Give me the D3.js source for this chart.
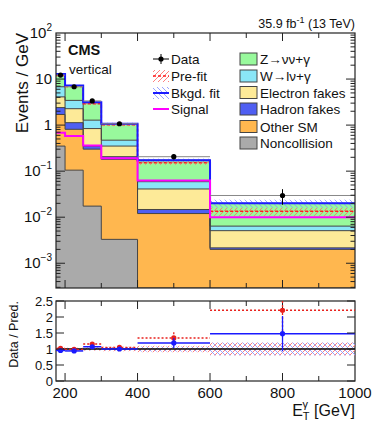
<!DOCTYPE html>
<html>
<head>
<meta charset="utf-8">
<script src="https://d3js.org/d3.v7.min.js"></script>
<style>
  body { margin: 0; background: #fff; }
  svg text { font-family: "Liberation Sans", Arial, sans-serif; }
</style>
</head>
<body>
<div class="chart"></div>
<script>
// bin edges in GeV
var binEdges = [175, 200, 250, 300, 400, 600, 1000];

// background stack (events / GeV), bottom to top
var noncollision  = [0.35, 0.105, 0.0174, 0.0033, 0, 0];
var otherSM       = [1.35, 0.705, 0.283, 0.177, 0.012, 0.002];
var hadronFakes   = [0.7, 0.32, 0.05, 0.026, 0.0027, 0.00016];
var electronFakes = [1.7, 1.14, 0.49, 0.144, 0.0263, 0.00294];
var wlnug         = [2.7, 1.17, 0.44, 0.12, 0.018, 0.0013];
var znng          = [6.0, 3.8, 1.85, 0.60, 0.114, 0.0136];

var dataVals = [12.2, 6.8, 3.35, 1.07, 0.206, 0.0296];
var dataErr  = [0.3, 0.15, 0.1, 0.04, 0.027, 0.011];
var prefit   = [12.0, 6.9, 2.9, 1.02, 0.153, 0.0134];
var signal   = [0.68, 0.58, 0.36, 0.19, 0.063, 0.010];
var fitUnc    = [0.03, 0.03, 0.04, 0.05, 0.08, 0.2];   // relative
var prefitUnc = [0.04, 0.04, 0.05, 0.07, 0.1, 0.2];    // relative

var layerNames  = ["Noncollision", "Other SM", "Hadron fakes", "Electron fakes", "W\u2192l\u03bd+\u03b3", "Z\u2192\u03bd\u03bd+\u03b3"];
var layerColors = ["#aaaaaa", "#ffb74f", "#4f5ff2", "#fdea98", "#8ae6f7", "#98f99c"];
var layers = [noncollision, otherSM, hadronFakes, electronFakes, wlnug, znng];

var yTickVals = [1e-3, 1e-2, 1e-1, 1, 10, 100];
var yTickExp  = ["\u22123", "\u22122", "\u22121", "", "", "2"];
var xTickVals = [200, 400, 600, 800, 1000];
var rTickVals = [0, 0.5, 1, 1.5, 2, 2.5];

var w = 374, h = 424;
var L = 56, R = 355, T = 33, B = 288;   // main frame
var rT = 301, rB = 381;                  // ratio frame

var svg = d3.select("div.chart").append("svg").attr("width", w).attr("height", h);

var defs = svg.append("defs");
function hatch(id, color, dir) {
  var p = defs.append("pattern").attr("id", id).attr("patternUnits", "userSpaceOnUse")
    .attr("width", 5).attr("height", 5);
  if (dir > 0) {
    p.append("path").attr("d", "M-1,1 l2,-2 M0,5 l5,-5 M4,6 l2,-2");
  } else {
    p.append("path").attr("d", "M-1,4 l2,2 M0,0 l5,5 M4,-1 l2,2");
  }
  p.select("path").attr("stroke", color).attr("stroke-width", 0.9);
}
hatch("hRed", "#ff7070", 1);
hatch("hBlue", "#8d98ff", -1);
defs.append("clipPath").attr("id", "cMain").append("rect").attr("x", L).attr("y", T).attr("width", R - L).attr("height", B - T);
defs.append("clipPath").attr("id", "cRatio").append("rect").attr("x", L).attr("y", rT).attr("width", R - L).attr("height", rB - rT);

var xScale = d3.scaleLinear().domain([175, 1000]).range([L, R]);
var yScale = d3.scaleLog().domain([2.9e-4, 100]).range([B, T]).clamp(true);
var rScale = d3.scaleLinear().domain([0, 2.5]).range([rB, rT]).clamp(true);

var nb = dataVals.length;
var bins = d3.range(nb).map(function(i) {
  var o = { i: i, lo: binEdges[i], hi: binEdges[i + 1] };
  layers.forEach(function(l, k) { o["l" + k] = l[i]; });
  return o;
});
var stack = d3.stack().keys(layers.map(function(l, k) { return "l" + k; }))(bins);
var total = bins.map(function(b, i) { return d3.sum(layers, function(l) { return l[i]; }); });

// step helper: values per bin -> points including the last edge
function stepPts(vals) {
  var p = vals.map(function(v, i) { return [binEdges[i], v]; });
  p.push([binEdges[nb], vals[nb - 1]]);
  return p;
}
var stepLine = d3.line().curve(d3.curveStepAfter)
  .x(function(d) { return xScale(d[0]); })
  .y(function(d) { return yScale(Math.max(d[1], 1e-5)); });

var main = svg.append("g").attr("clip-path", "url(#cMain)");

// stack fills
stack.forEach(function(s, k) {
  var pts = s.map(function(d, i) { return [binEdges[i], d[0], d[1]]; });
  pts.push([binEdges[nb], s[nb - 1][0], s[nb - 1][1]]);
  var area = d3.area().curve(d3.curveStepAfter)
    .x(function(d) { return xScale(d[0]); })
    .y0(function(d) { return yScale(Math.max(d[1], 1e-5)); })
    .y1(function(d) { return yScale(Math.max(d[2], 1e-5)); });
  main.append("path").attr("d", area(pts)).attr("fill", layerColors[k]).attr("stroke", "none");
});
// layer outlines
stack.forEach(function(s, k) {
  var tops = s.map(function(d) { return d[1]; });
  main.append("path").attr("d", stepLine(stepPts(tops)))
    .attr("fill", "none").attr("stroke", "#444").attr("stroke-width", 1);
});

// uncertainty bands
bins.forEach(function(b, i) {
  main.append("rect").attr("x", xScale(b.lo)).attr("width", xScale(b.hi) - xScale(b.lo))
    .attr("y", yScale(prefit[i] * (1 + prefitUnc[i])))
    .attr("height", yScale(prefit[i] * (1 - prefitUnc[i])) - yScale(prefit[i] * (1 + prefitUnc[i])))
    .attr("fill", "url(#hRed)");
  main.append("rect").attr("x", xScale(b.lo)).attr("width", xScale(b.hi) - xScale(b.lo))
    .attr("y", yScale(total[i] * (1 + fitUnc[i])))
    .attr("height", yScale(total[i] * (1 - fitUnc[i])) - yScale(total[i] * (1 + fitUnc[i])))
    .attr("fill", "url(#hBlue)");
});

main.append("path").attr("d", stepLine(stepPts(prefit)))
  .attr("fill", "none").attr("stroke", "#ff2020").attr("stroke-width", 1.5).attr("stroke-dasharray", "3,2");
main.append("path").attr("d", stepLine(stepPts(total)))
  .attr("fill", "none").attr("stroke", "#1a1aff").attr("stroke-width", 2);
main.append("path").attr("d", stepLine(stepPts(signal)))
  .attr("fill", "none").attr("stroke", "#ff00ff").attr("stroke-width", 2);

// data
bins.forEach(function(b, i) {
  var cx = xScale((b.lo + b.hi) / 2), cy = yScale(dataVals[i]);
  main.append("line").attr("x1", xScale(b.lo)).attr("x2", xScale(b.hi)).attr("y1", cy).attr("y2", cy)
    .attr("stroke", "#888").attr("stroke-width", 1);
  main.append("line").attr("x1", cx).attr("x2", cx)
    .attr("y1", yScale(dataVals[i] + dataErr[i])).attr("y2", yScale(dataVals[i] - dataErr[i]))
    .attr("stroke", "#000").attr("stroke-width", 1);
  main.append("circle").attr("cx", cx).attr("cy", cy).attr("r", 2.6).attr("fill", "#000");
});

// frames and ticks
function frame(y0, y1) {
  svg.append("rect").attr("x", L).attr("y", y0).attr("width", R - L).attr("height", y1 - y0)
    .attr("fill", "none").attr("stroke", "#222").attr("stroke-width", 1.2);
}
frame(T, B);
frame(rT, rB);

function xTicks(y0, y1) {
  d3.range(200, 1000, 100).forEach(function(v) {
    var len = v % 200 === 0 ? 8 : 5;
    var x = xScale(v);
    svg.append("line").attr("x1", x).attr("x2", x).attr("y1", y1).attr("y2", y1 - len).attr("stroke", "#222");
    svg.append("line").attr("x1", x).attr("x2", x).attr("y1", y0).attr("y2", y0 + len).attr("stroke", "#222");
  });
}
xTicks(T, B);
xTicks(rT, rB);

// log y ticks
for (var e = -4; e <= 1; e++) {
  for (var m = 1; m <= 9; m++) {
    var v = m * Math.pow(10, e);
    if (v < 2.9e-4 || v > 100) continue;
    var yy = yScale(v), len = m === 1 ? 9 : 4.5;
    svg.append("line").attr("x1", L).attr("x2", L + len).attr("y1", yy).attr("y2", yy).attr("stroke", "#222");
    svg.append("line").attr("x1", R).attr("x2", R - len).attr("y1", yy).attr("y2", yy).attr("stroke", "#222");
  }
}
yTickVals.forEach(function(v, i) {
  var t = svg.append("text").attr("x", 52).attr("y", yScale(v) + 5).attr("text-anchor", "end")
    .attr("font-size", 15).attr("fill", "#111");
  if (v === 1) { t.text("1"); return; }
  t.append("tspan").text("10");
  if (yTickExp[i]) t.append("tspan").attr("dy", -7).attr("font-size", 10).text(yTickExp[i]);
});

// x labels
xTickVals.forEach(function(v) {
  svg.append("text").attr("x", xScale(v)).attr("y", 398).attr("text-anchor", "middle")
    .attr("font-size", 15).attr("fill", "#111").text(v);
});

// ratio panel
var rg = svg.append("g").attr("clip-path", "url(#cRatio)");
bins.forEach(function(b, i) {
  var x0 = xScale(b.lo), x1 = xScale(b.hi);
  rg.append("rect").attr("x", x0).attr("width", x1 - x0)
    .attr("y", rScale(1 + prefitUnc[i])).attr("height", rScale(1 - prefitUnc[i]) - rScale(1 + prefitUnc[i]))
    .attr("fill", "url(#hRed)");
  rg.append("rect").attr("x", x0).attr("width", x1 - x0)
    .attr("y", rScale(1 + fitUnc[i])).attr("height", rScale(1 - fitUnc[i]) - rScale(1 + fitUnc[i]))
    .attr("fill", "url(#hBlue)");
});
rg.append("line").attr("x1", L).attr("x2", R).attr("y1", rScale(1)).attr("y2", rScale(1))
  .attr("stroke", "#000").attr("stroke-width", 1.5);
function ratioSeries(pred, color, dash) {
  bins.forEach(function(b, i) {
    var r = dataVals[i] / pred[i], re = dataErr[i] / pred[i];
    var cx = xScale((b.lo + b.hi) / 2);
    rg.append("line").attr("x1", xScale(b.lo)).attr("x2", xScale(b.hi))
      .attr("y1", rScale(r)).attr("y2", rScale(r))
      .attr("stroke", color).attr("stroke-width", 1.5).attr("stroke-dasharray", dash);
    rg.append("line").attr("x1", cx).attr("x2", cx).attr("y1", rScale(r + re)).attr("y2", rScale(r - re))
      .attr("stroke", color).attr("stroke-width", 1.3).attr("stroke-dasharray", dash);
    rg.append("circle").attr("cx", cx).attr("cy", rScale(r)).attr("r", 2.6).attr("fill", color);
  });
}
ratioSeries(prefit, "#e8201c", "2,2");
ratioSeries(total, "#1a1aff", null);

rTickVals.forEach(function(v) {
  var yy = rScale(v);
  svg.append("line").attr("x1", L).attr("x2", L + 8).attr("y1", yy).attr("y2", yy).attr("stroke", "#222");
  svg.append("line").attr("x1", R).attr("x2", R - 8).attr("y1", yy).attr("y2", yy).attr("stroke", "#222");
  svg.append("text").attr("x", 53).attr("y", yy + 4.5).attr("text-anchor", "end")
    .attr("font-size", 13).attr("fill", "#111").text(v);
});

// titles
svg.append("text").attr("transform", "translate(28," + T + ") rotate(-90)").attr("text-anchor", "end")
  .attr("font-size", 17).attr("fill", "#111").text("Events / GeV");
svg.append("text").attr("transform", "translate(18," + rT + ") rotate(-90)").attr("text-anchor", "end")
  .attr("font-size", 12.5).attr("fill", "#111").text("Data / Pred.");
var xt = svg.append("text").attr("x", R).attr("y", 416).attr("text-anchor", "end")
  .attr("font-size", 16).attr("fill", "#111");
xt.append("tspan").text("E");
xt.append("tspan").attr("font-size", 11).attr("dy", 4).text("T");
xt.append("tspan").attr("font-size", 11).attr("dy", -12).attr("dx", -7).text("\u03b3");
xt.append("tspan").attr("dy", 8).attr("dx", 6).text("[GeV]");

var lumi = svg.append("text").attr("x", R).attr("y", 28).attr("text-anchor", "end")
  .attr("font-size", 12.5).attr("fill", "#111");
lumi.append("tspan").text("35.9 fb");
lumi.append("tspan").attr("dy", -5).attr("font-size", 9).text("-1");
lumi.append("tspan").attr("dy", 5).text(" (13 TeV)");

svg.append("text").attr("x", 68).attr("y", 55).attr("font-size", 14.5).attr("font-weight", "bold")
  .attr("fill", "#111").text("CMS");
svg.append("text").attr("x", 69).attr("y", 74).attr("font-size", 13.5).attr("fill", "#111").text("vertical");

// legend, left column
var lx = 153, lrows = [59, 76, 93, 109];
var legL = ["Data", "Pre-fit", "Bkgd. fit", "Signal"];
legL.forEach(function(t, i) {
  svg.append("text").attr("x", 171).attr("y", lrows[i] + 5).attr("font-size", 13.5).attr("fill", "#111").text(t);
});
svg.append("line").attr("x1", lx).attr("x2", lx + 16).attr("y1", lrows[0]).attr("y2", lrows[0]).attr("stroke", "#000");
svg.append("line").attr("x1", lx + 8).attr("x2", lx + 8).attr("y1", lrows[0] - 5).attr("y2", lrows[0] + 5).attr("stroke", "#000");
svg.append("circle").attr("cx", lx + 8).attr("cy", lrows[0]).attr("r", 2.6).attr("fill", "#000");
svg.append("rect").attr("x", lx).attr("y", lrows[1] - 6).attr("width", 16).attr("height", 12).attr("fill", "url(#hRed)");
svg.append("line").attr("x1", lx).attr("x2", lx + 16).attr("y1", lrows[1]).attr("y2", lrows[1])
  .attr("stroke", "#ff2020").attr("stroke-width", 1.5).attr("stroke-dasharray", "3,2");
svg.append("rect").attr("x", lx).attr("y", lrows[2] - 6).attr("width", 16).attr("height", 12).attr("fill", "url(#hBlue)");
svg.append("line").attr("x1", lx).attr("x2", lx + 16).attr("y1", lrows[2]).attr("y2", lrows[2])
  .attr("stroke", "#1a1aff").attr("stroke-width", 2);
svg.append("line").attr("x1", lx).attr("x2", lx + 16).attr("y1", lrows[3]).attr("y2", lrows[3])
  .attr("stroke", "#ff00ff").attr("stroke-width", 2);

// legend, right column (top to bottom = stack top to bottom)
var rrows = [59, 76, 92.5, 109, 126.5, 143];
d3.range(layers.length).reverse().forEach(function(k, j) {
  svg.append("rect").attr("x", 240).attr("y", rrows[j] - 6).attr("width", 17).attr("height", 12)
    .attr("fill", layerColors[k]).attr("stroke", "#444").attr("stroke-width", 1);
  svg.append("text").attr("x", 260).attr("y", rrows[j] + 5).attr("font-size", 13.5).attr("fill", "#111")
    .text(layerNames[k]);
});
</script>
</body>
</html>
